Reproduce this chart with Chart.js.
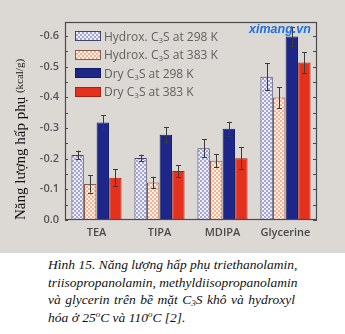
<!DOCTYPE html>
<html>
<head>
<meta charset="utf-8">
<script src="https://cdn.jsdelivr.net/npm/chart.js@4"></script>
<style>
  html, body { margin: 0; padding: 0; background: #ffffff; }
  #wrap { position: relative; width: 345px; height: 334px; overflow: hidden; }
  #top { position: absolute; left: 0; top: 0; width: 345px; height: 253px; background: #dcd9d5; }
  #chart { position: absolute; left: 0; top: 0; }
  .legend { position: absolute; left: 75px; top: 27px; font-family: "Open Sans", sans-serif; font-size: 12px; color: #606060; }
  .legend .item { height: 18.5px; display: flex; align-items: center; white-space: nowrap; }
  .legend .sw { width: 26px; height: 10px; margin-right: 3px; box-sizing: border-box; border: 1px solid #3a3a5a; }
  .legend sub { font-size: 8px; vertical-align: -2px; }
  .mark { position: absolute; left: 249px; top: 22px; font-family: "Liberation Sans", Arial, sans-serif; font-weight: bold; font-style: italic; font-size: 12.5px; color: #1f6fe6; }
  .caption { position: absolute; left: 48px; top: 256px; width: 247px; font-family: "Liberation Serif", "Times New Roman", serif; font-style: italic; font-size: 13.5px; line-height: 17.5px; color: #111; }
  .caption .ln { display: block; white-space: nowrap; text-align: justify; text-align-last: justify; }
  .caption .ln.last { text-align-last: left; }
  .caption sub { font-size: 9px; vertical-align: -2px; line-height: 0; }
  .caption sup { font-size: 9px; vertical-align: 5px; line-height: 0; }
</style>
</head>
<body>
<div id="wrap">
  <div id="top"></div>
  <canvas id="chart" width="345" height="253"></canvas>
  <div class="legend" id="legend"></div>
  <div class="mark">ximang.vn</div>
  <div class="caption">
    <span class="ln">Hình 15. Năng lượng hấp phụ triethanolamin,</span>
    <span class="ln">triisopropanolamin, methyldiisopropanolamin</span>
    <span class="ln">và glycerin trên bề mặt C<sub>3</sub>S khô và hydroxyl</span>
    <span class="ln last">hóa ở 25<sup>o</sup>C và 110<sup>o</sup>C [2].</span>
  </div>
</div>
<script>
// Adsorption energies (kcal/g) of the four additives on C3S surfaces
const categories = ["TEA", "TIPA", "MDIPA", "Glycerine"];
const seriesNames = ["Hydrox. C\u2083S at 298 K", "Hydrox. C\u2083S at 383 K", "Dry C\u2083S at 298 K", "Dry C\u2083S at 383 K"];
const hydrox298 = [-0.212, -0.202, -0.234, -0.467];
const hydrox383 = [-0.117, -0.122, -0.193, -0.399];
const dry298    = [-0.318, -0.278, -0.297, -0.598];
const dry383    = [-0.138, -0.160, -0.201, -0.513];
// symmetric error half-widths
const errHydrox298 = [0.014, 0.011, 0.029, 0.044];
const errHydrox383 = [0.028, 0.019, 0.021, 0.034];
const errDry298    = [0.023, 0.024, 0.023, 0.030];
const errDry383    = [0.027, 0.019, 0.036, 0.033];
const yTicks = [0, -0.1, -0.2, -0.3, -0.4, -0.5, -0.6];
const yTitleMain = 'Năng lượng hấp phụ';
const yTitleUnit = '(kcal/g)';

function checker(c1, c2) {
  const p = document.createElement('canvas');
  p.width = 4; p.height = 4;
  const g = p.getContext('2d');
  g.fillStyle = c2; g.fillRect(0, 0, 4, 4);
  g.fillStyle = c1;
  g.fillRect(0, 0, 2, 2); g.fillRect(2, 2, 2, 2);
  return g.createPattern(p, 'repeat');
}
const ctx = document.getElementById('chart').getContext('2d');
const fills = [
  checker('#a3a3da', '#f1f1fb'),
  checker('#f3b393', '#fdf1ea'),
  '#1d2689',
  '#e3311d'
];
const borders = ['#44446a', '#8a5a48', '#121a60', '#a8200f'];
const values = [hydrox298, hydrox383, dry298, dry383];
const errors = [errHydrox298, errHydrox383, errDry298, errDry383];

// HTML legend with the same swatches
const cssFills = [
  'repeating-conic-gradient(#a3a3da 0 25%, #f1f1fb 0 50%) 0 0/4px 4px',
  'repeating-conic-gradient(#f3b393 0 25%, #fdf1ea 0 50%) 0 0/4px 4px',
  '#1d2689', '#e3311d'
];
const leg = document.getElementById('legend');
seriesNames.forEach((n, i) => {
  const d = document.createElement('div'); d.className = 'item';
  const s = document.createElement('div'); s.className = 'sw';
  s.style.background = cssFills[i]; s.style.borderColor = borders[i];
  const t = document.createElement('span');
  t.innerHTML = n.replace('\u2083', '<sub>3</sub>');
  d.appendChild(s); d.appendChild(t); leg.appendChild(d);
});

const errorBars = {
  id: 'errorBars',
  afterDatasetsDraw(chart) {
    const c = chart.ctx, y = chart.scales.y;
    c.save();
    c.strokeStyle = '#3a3a3a'; c.lineWidth = 1;
    chart.data.datasets.forEach((ds, di) => {
      chart.getDatasetMeta(di).data.forEach((bar, i) => {
        const v = ds.data[i], e = errors[di][i];
        const y1 = y.getPixelForValue(v - e), y2 = y.getPixelForValue(v + e);
        const x = Math.round(bar.x) + 0.5;
        c.beginPath();
        c.moveTo(x, y1); c.lineTo(x, y2);
        c.moveTo(x - 2.5, Math.round(y1) + 0.5); c.lineTo(x + 2.5, Math.round(y1) + 0.5);
        c.moveTo(x - 2.5, Math.round(y2) + 0.5); c.lineTo(x + 2.5, Math.round(y2) + 0.5);
        c.stroke();
      });
    });
    c.restore();
  }
};

// plot frame with small inward ticks, plus the two-size axis title
const frame = {
  id: 'frame',
  afterDraw(chart) {
    const c = chart.ctx, a = chart.chartArea, y = chart.scales.y;
    c.save();
    c.strokeStyle = '#4a4a4a'; c.lineWidth = 1.2;
    c.strokeRect(a.left + 0.5, a.top + 0.5, a.right - a.left - 1, a.bottom - a.top - 1);
    c.lineWidth = 1;
    for (let v = 0; v >= -0.6001; v -= 0.05) {
      const py = Math.round(y.getPixelForValue(v)) + 0.5;
      c.beginPath(); c.moveTo(a.right - 4, py); c.lineTo(a.right, py); c.stroke();
      c.beginPath(); c.moveTo(a.left, py); c.lineTo(a.left + 3, py); c.stroke();
    }
    c.translate(21, a.bottom);
    c.rotate(-Math.PI / 2);
    c.fillStyle = '#111';
    c.textBaseline = 'middle';
    c.textAlign = 'left';
    c.font = '15px "Liberation Serif"';
    c.fillText(yTitleMain, 0, 0);
    const w = c.measureText(yTitleMain + ' ').width;
    c.font = '11px "Liberation Serif"';
    c.fillText(yTitleUnit, w, -1);
    c.restore();
  }
};

new Chart(ctx, {
  type: 'bar',
  data: {
    labels: categories,
    datasets: values.map((d, i) => ({
      label: seriesNames[i],
      data: d,
      backgroundColor: fills[i],
      borderColor: borders[i],
      borderWidth: 1,
      categoryPercentage: 0.8,
      barPercentage: 0.98
    }))
  },
  options: {
    responsive: false,
    animation: false,
    layout: { padding: { top: 22, right: 28, left: 0, bottom: 0 } },
    plugins: { legend: { display: false }, tooltip: { enabled: false } },
    scales: {
      x: {
        grid: { display: false, drawTicks: false },
        border: { display: false },
        ticks: { color: '#4a4a4a', padding: 6, font: { family: 'Open Sans', size: 11, weight: '600' } },
        afterFit(s) { s.height = 33; }
      },
      y: {
        reverse: true,
        min: -0.645,
        max: 0,
        afterBuildTicks(s) { s.ticks = yTicks.map(v => ({ value: v })); },
        grid: { display: false, drawOnChartArea: false, drawTicks: true, tickLength: 3, color: '#4a4a4a' },
        border: { display: false },
        ticks: {
          color: '#555555', padding: 3,
          font: { family: 'Open Sans', size: 11, weight: '600' },
          callback: v => (v === 0 ? '0.0' : v.toFixed(1))
        },
        afterFit(s) { s.width = 65; }
      }
    }
  },
  plugins: [errorBars, frame]
});
</script>
</body>
</html>
